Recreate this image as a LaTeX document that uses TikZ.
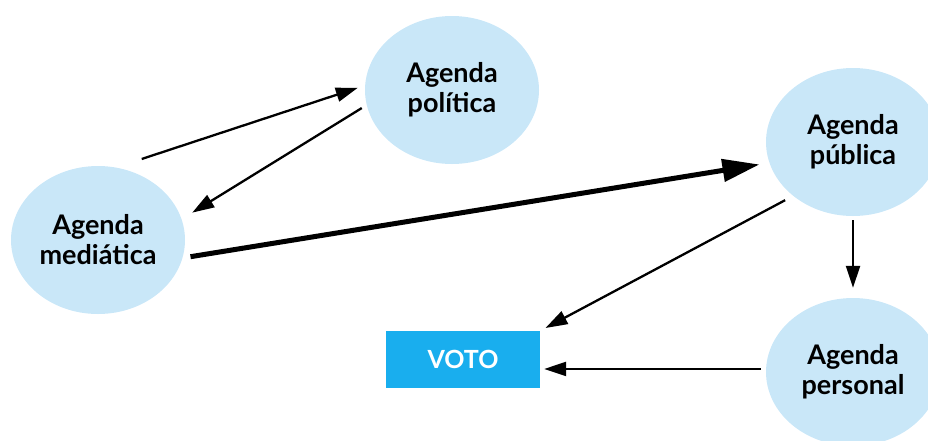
\documentclass[tikz,border=0pt]{standalone}
\usepackage{fontspec}
\setmainfont{Lato}
\usetikzlibrary{shapes.geometric,arrows.meta}
\definecolor{agendablue}{HTML}{C9E7F8}
\definecolor{votoblue}{HTML}{19AEEE}
\tikzset{
	agenda/.style={ellipse,fill=agendablue,minimum width=174pt,minimum height=148pt,inner sep=0pt,
		align=center,text=black,font=\fontsize{27}{30}\selectfont\bfseries},
	votobox/.style={fill=votoblue,minimum width=154pt,minimum height=57pt,inner sep=0pt,
		text=white,font=\fontsize{25}{28}\selectfont\bfseries},
	flow/.style={-{Triangle[length=22pt,width=14pt]},line width=2.3pt},
	mainflow/.style={-{Triangle[length=37pt,width=22pt]},line width=5pt}
}
\begin{document}
\begin{tikzpicture}[x=1pt,y=-1pt]
		\useasboundingbox (0,0) rectangle (928,440);
		\node[agenda] (media) at (98,240) {Agenda\\mediática};
		\node[agenda] (polit) at (452,90) {Agenda\\política};
		\node[agenda] (publ) at (853,142) {Agenda\\pública};
		\node[agenda] (pers) at (853,372) {Agenda\\personal};
		\node[votobox] (voto) at (463,359.5) {VOTO};
		
		\draw[flow,shorten <=27pt,shorten >=7.5pt] (media.76) -- (polit.177);
		\draw[flow,shorten <=5.7pt,shorten >=12.4pt] (polit.190) -- (media.14);
		\draw[mainflow,shorten <=8pt,shorten >=10pt] (media.348) -- (publ.194);
		\draw[flow,shorten <=4pt,shorten >=10pt] (publ.south) -- (pers.north);
		\draw[flow,shorten <=9pt,shorten >=6pt] (publ.222) -- (voto.north east);
		\draw[flow,shorten <=5pt,shorten >=4pt] (pers.178) -- (pers.178 -| voto.east);
\end{tikzpicture}
\end{document}
